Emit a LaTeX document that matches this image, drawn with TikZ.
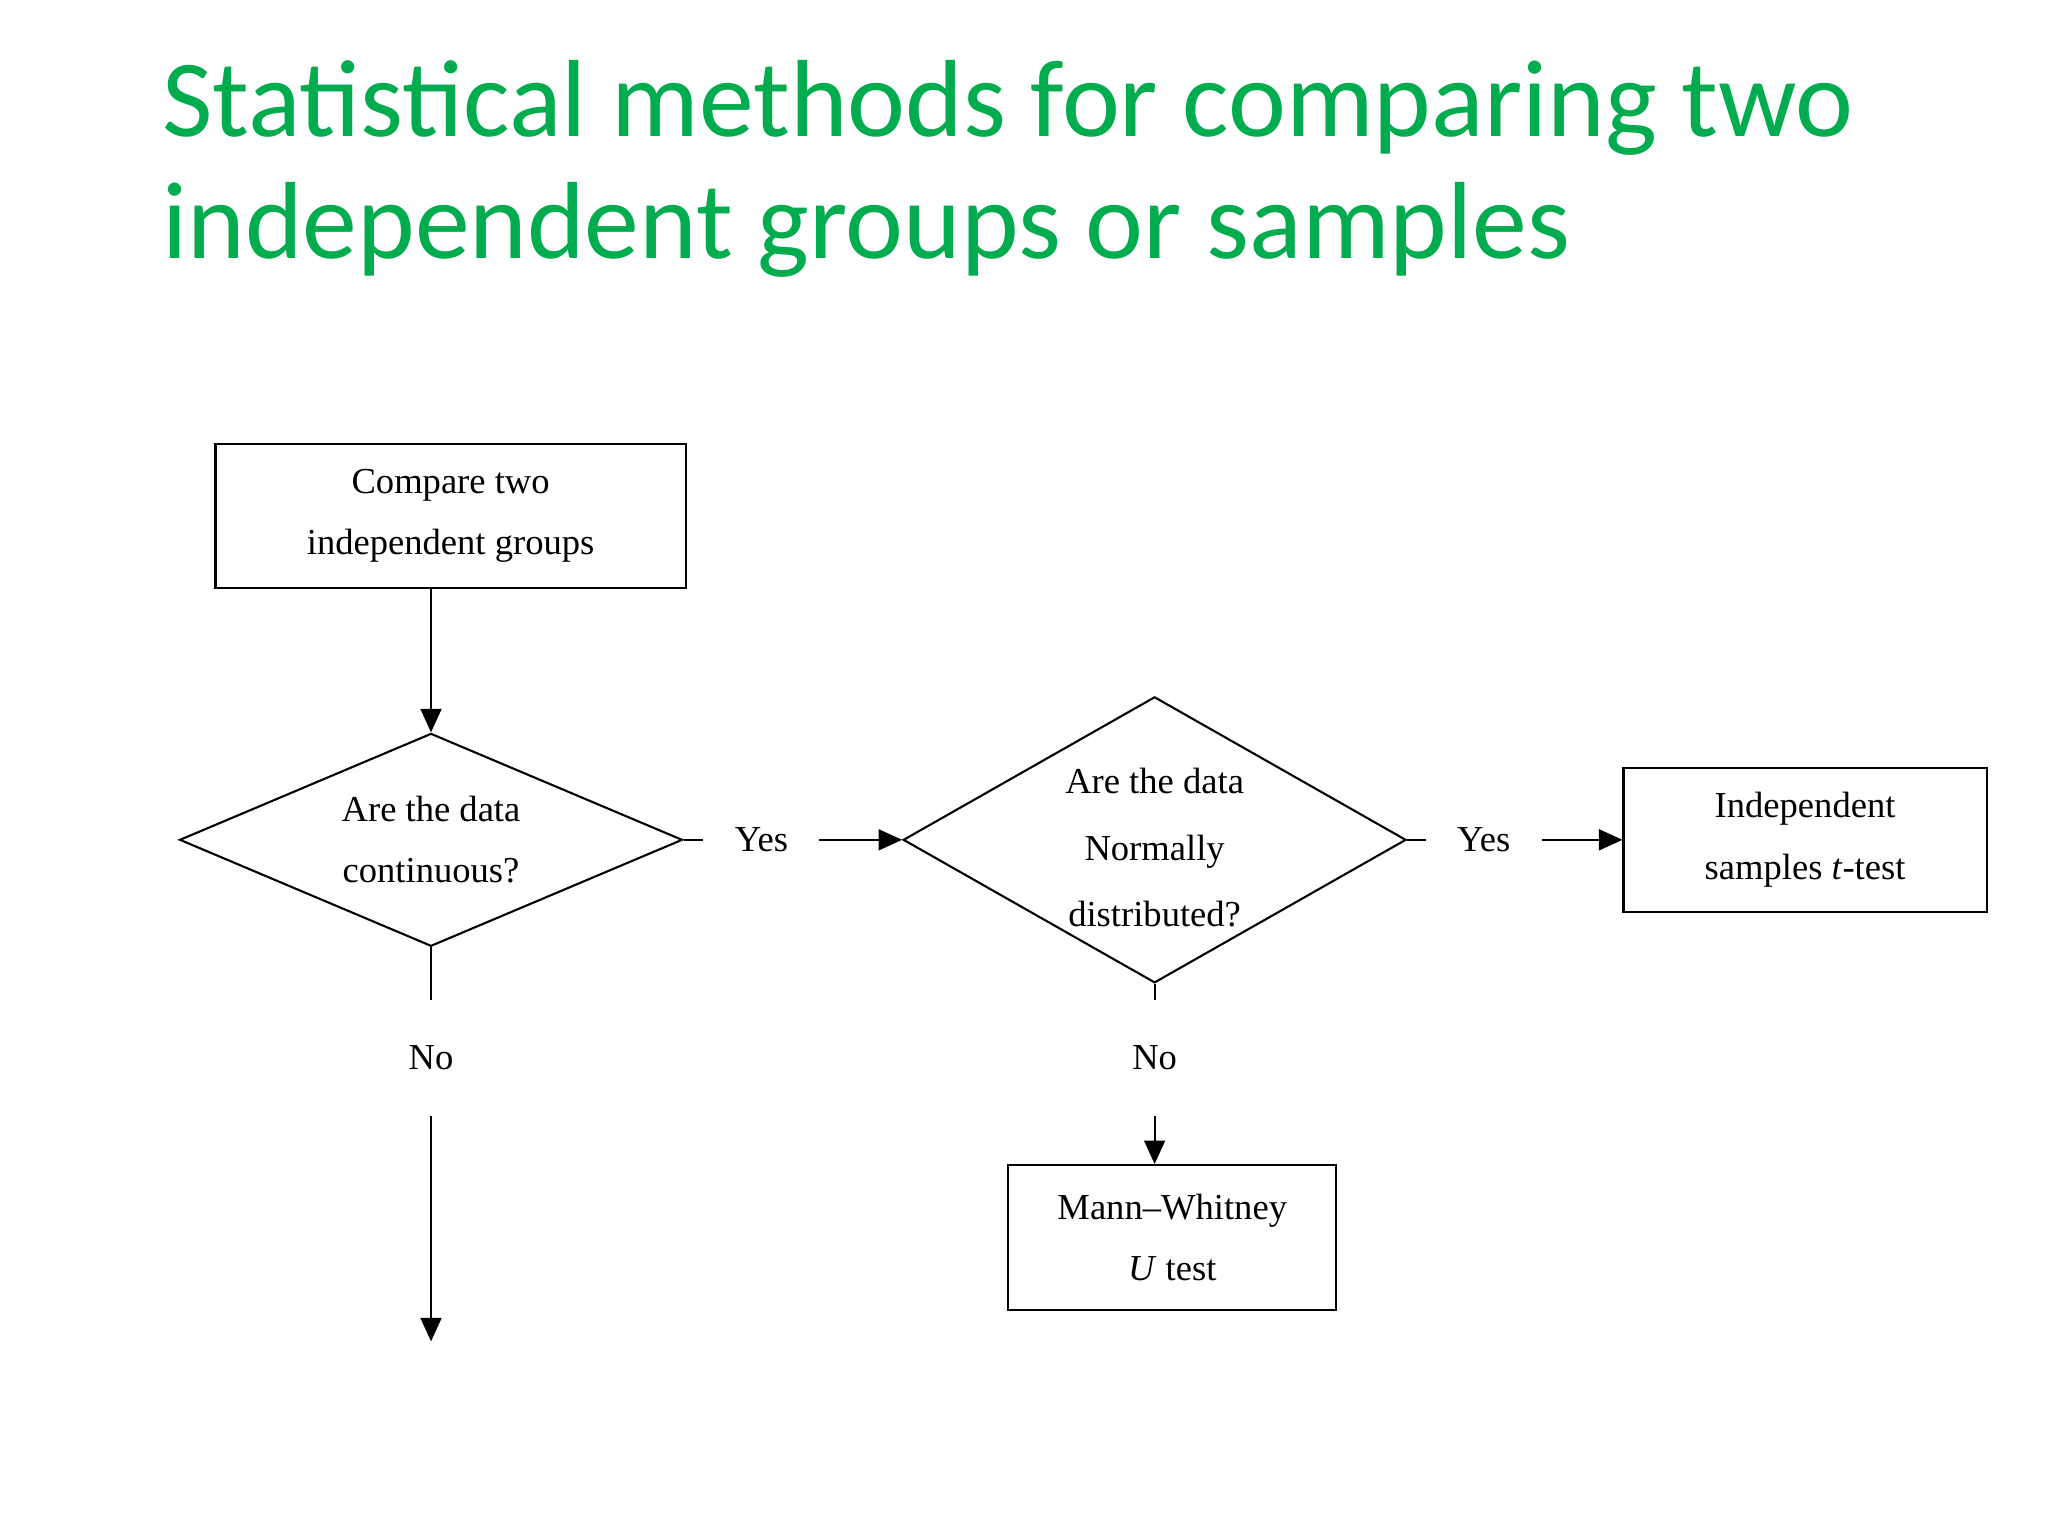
\documentclass[tikz,border=0pt]{standalone}
\usepackage{fontspec}
\setmainfont{Liberation Serif}
\newfontfamily\titlefont{Carlito}
\usetikzlibrary{shapes.geometric,arrows.meta}
\definecolor{titlegreen}{RGB}{0,172,78}
\tikzset{
  box/.style={draw,thick,rectangle,inner sep=0pt},
  dia/.style={draw,thick,diamond,inner sep=0pt},
  txt/.style={align=center,font=\fontsize{14}{23.5}\selectfont},
  lbl/.style={font=\fontsize{14}{16}\selectfont,inner sep=0pt,minimum width=44pt,minimum height=14pt},
  arr/.style={thick,-{Triangle[length=9pt,width=8pt]}}
}
\begin{document}
\begin{tikzpicture}[x=0.5pt,y=-0.5pt]
\useasboundingbox (0,0) rectangle (1568,1176);
\node[anchor=north west,align=left,inner sep=0pt,text=titlegreen,
  font=\titlefont\fontsize{42}{46.5}\selectfont] (title) at (124,46)
  {Statistical methods for comparing two\\independent groups or samples};

\node[box,minimum width=180pt,minimum height=55pt] (start) at (345,395) {};
\node[txt] (starttxt) at (start) {Compare two\\independent groups};
\node[dia,minimum width=192.5pt,minimum height=81.5pt] (cont) at (330,643) {};
\node[txt] (conttxt) at (cont) {Are the data\\continuous?};
\node[dia,minimum width=192.5pt,minimum height=109.5pt] (norm) at (884,643) {};
\node[txt,font=\fontsize{14}{25.5}\selectfont] (normtxt) at (884,649) {Are the data\\Normally\\distributed?};
\node[box,minimum width=139pt,minimum height=55pt] (ttest) at (1382,643) {};
\node[txt] (ttesttxt) at (ttest) {Independent\\samples \textit{t}-test};
\node[box,minimum width=125.5pt,minimum height=55.5pt] (mw) at (897.5,947.5) {};
\node[txt] (mwtxt) at (mw) {Mann--Whitney\\\textit{U} test};

\node[lbl] (yes1) at (583,643) {Yes};
\node[lbl] (yes2) at (1136,643) {Yes};
\node[lbl,minimum height=44pt] (no1) at (330,810) {No};
\node[lbl,minimum height=44pt] (no2) at (884,810) {No};
\coordinate (end) at (330,1027);

\draw[arr] (330,450) -- (cont.north);
\draw[thick] (cont.east) -- (yes1);
\draw[arr] (yes1) -- (norm.west);
\draw[thick] (norm.east) -- (yes2);
\draw[arr] (yes2) -- (ttest.west);
\draw[thick] (cont.south) -- (no1);
\draw[arr] (no1) -- (end);
\draw[thick] (norm.south) -- (no2);
\draw[arr] (no2) -- (mw.north -| no2);
\end{tikzpicture}
\end{document}
